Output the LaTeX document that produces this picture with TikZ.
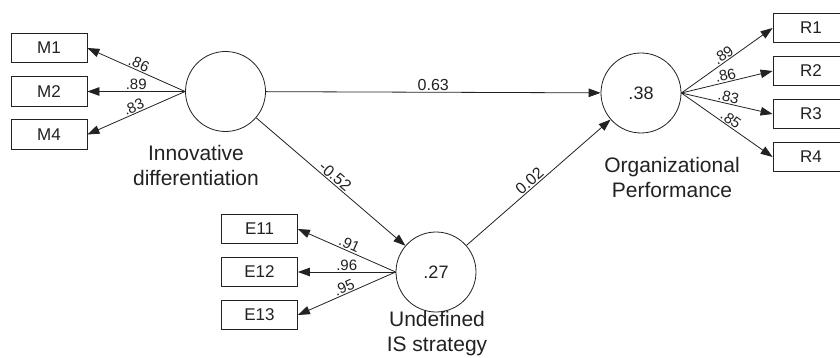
\documentclass[tikz,border=0pt]{standalone}
\usepackage{fontspec}
\setmainfont{Liberation Sans}
\usetikzlibrary{arrows.meta}
\definecolor{ink}{HTML}{222222}
\tikzset{
  obsbox/.style={draw=ink, line width=0.8pt, minimum width=76pt, minimum height=29.5pt, inner sep=0pt, font=\fontsize{17}{20}\selectfont, text=ink},
  latent/.style={draw=ink, line width=0.8pt, circle, minimum size=80pt, inner sep=0pt, font=\fontsize{18}{21}\selectfont, text=ink},
  lvname/.style={align=center, font=\fontsize{21}{25}\selectfont, text=ink, inner sep=0pt},
  arr/.style={draw=ink, line width=0.8pt, -{Triangle[length=12pt,width=8.5pt]}},
  load/.style={midway, sloped, anchor=south, inner sep=1pt, font=\fontsize{15}{17}\selectfont, text=ink},
  pathlab/.style={sloped, anchor=south, inner sep=1pt, font=\fontsize{16}{18}\selectfont, text=ink},
}
\begin{document}
\begin{tikzpicture}[x=1pt, y=-1pt]
\clip (0,0) rectangle (840,358);
\fill[white] (0,0) rectangle (840,358);
% latent variables
\node[latent] (inn) at (225.5,91.5) {};
\node[latent] (und) at (436,272) {.27};
\node[latent] (org) at (641,93) {.38};
\node[lvname] (innlab) at (196,165) {Innovative\\differentiation};
\node[lvname] (undlab) at (437,334) {Undefined\\IS strategy};
\node[lvname] (orglab) at (672,177) {Organizational\\Performance};
% indicators
\node[obsbox] (m1) at (49,48) {M1};
\node[obsbox] (m2) at (49,91.5) {M2};
\node[obsbox] (m4) at (49,134.5) {M4};
\node[obsbox] (e11) at (259.5,229) {E11};
\node[obsbox] (e12) at (259.5,272) {E12};
\node[obsbox] (e13) at (259.5,315) {E13};
\node[obsbox] (r1) at (811,28) {R1};
\node[obsbox] (r2) at (811,71) {R2};
\node[obsbox] (r3) at (811,114) {R3};
\node[obsbox] (r4) at (811,157) {R4};
% loadings
\draw[arr] (inn.west) -- node[load] {.86} (m1.east);
\draw[arr] (inn.west) -- node[load] {.89} (m2.east);
\draw[arr] (inn.west) -- node[load] {.83} (m4.east);
\draw[arr] (und.west) -- node[load] {.91} (e11.east);
\draw[arr] (und.west) -- node[load] {.96} (e12.east);
\draw[arr] (und.west) -- node[load] {.95} (e13.east);
\draw[arr] (org.east) -- node[load] {.89} (r1.west);
\draw[arr] (org.east) -- node[load] {.86} (r2.west);
\draw[arr] (org.east) -- node[load] {.83} (r3.west);
\draw[arr] (org.east) -- node[load] {.85} (r4.west);
% structural paths
\draw[arr] (inn) -- node[pathlab, pos=0.5] {0.63} (org);
\draw[arr] (inn) -- node[pathlab, pos=0.5] {-0.52} (und);
\draw[arr] (und) -- node[pathlab, pos=0.47] {0.02} (org);
\end{tikzpicture}
\end{document}
